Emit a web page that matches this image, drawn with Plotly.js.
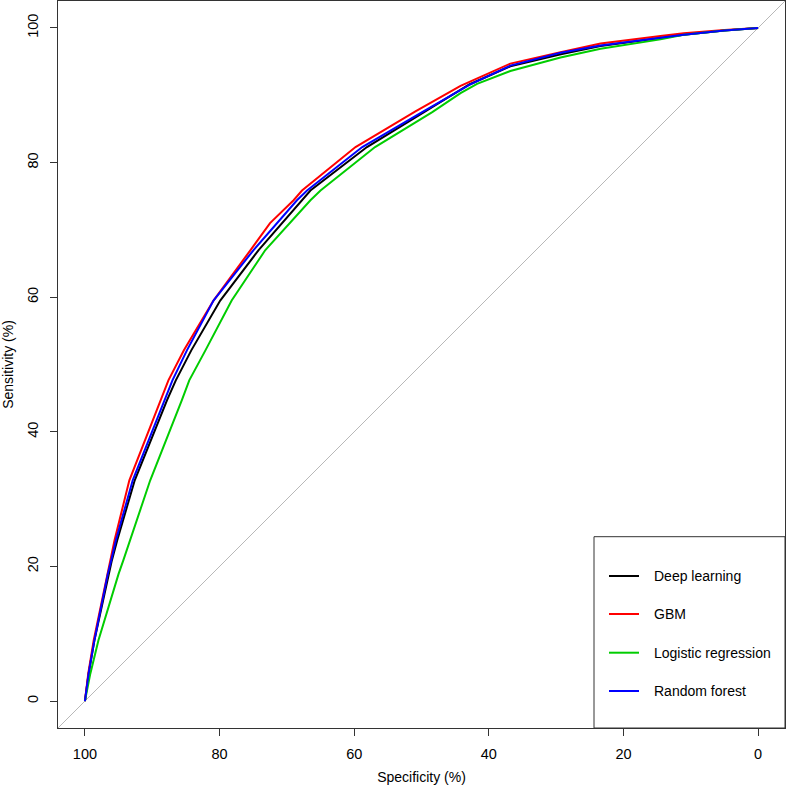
<!DOCTYPE html>
<html>
<head>
<meta charset="utf-8">
<script src="https://cdn.plot.ly/plotly-3.0.1.min.js"></script>
<style>html,body{margin:0;padding:0;background:#fff;}#chart{width:786px;height:788px;}</style>
</head>
<body>
<div id="chart"></div>
<script>
// ROC curves: specificity (%) vs sensitivity (%)
const seriesNames = ["Deep learning", "GBM", "Logistic regression", "Random forest"];
const seriesColors = ["#000000", "#FF0000", "#00CD00", "#0000FF"];

const dlSpec = [100, 99.45, 98.6, 97.5, 96.5, 96.0, 95.2, 92.6, 87.8, 86.5, 84.2, 79.9, 74.2, 67.8, 66.5, 58.1, 49.9, 42.9, 36.8, 29.3, 23.4, 14.5, 11.05, 5, 0];
const dlSens = [0, 4.07, 9.0, 14.0, 18.9, 20.9, 23.9, 32.8, 44.7, 47.65, 52.1, 59.5, 67.0, 74.4, 75.85, 82.3, 87.3, 91.6, 94.3, 96.1, 97.3, 98.5, 99.0, 99.6, 100];

const gbmSpec = [100, 99.5, 98.7, 97.65, 96.7, 96.2, 95.6, 93.4, 88.8, 87.6, 85.3, 80.9, 75.4, 72.5, 69.0, 67.75, 59.8, 50.9, 44.2, 36.8, 29.35, 23.4, 14.5, 11.05, 5, 0];
const gbmSens = [0, 4.1, 9.0, 14.0, 18.9, 20.9, 23.9, 32.8, 44.7, 47.65, 52.1, 59.5, 67.0, 71.0, 74.4, 75.85, 82.3, 87.6, 91.4, 94.7, 96.4, 97.7, 98.8, 99.2, 99.7, 100];

const lrSpec = [100, 99.2, 98.0, 96.5, 95.0, 94.3, 93.3, 90.3, 85.6, 84.5, 82.1, 78.2, 73.2, 66.5, 65.0, 56.9, 48.4, 44.2, 41.75, 36.8, 29.35, 23.4, 14.5, 11.05, 5, 0];
const lrSens = [0, 4.07, 9.0, 14.0, 18.9, 20.9, 23.9, 32.8, 44.7, 47.65, 52.1, 59.5, 67.0, 74.4, 75.85, 82.3, 87.5, 90.3, 91.7, 93.6, 95.6, 96.9, 98.3, 99.0, 99.6, 100];

const rfSpec = [100, 99.46, 98.6, 97.6, 96.6, 96.1, 95.4, 92.9, 88.2, 87.0, 84.85, 80.9, 74.95, 68.5, 67.0, 58.8, 49.9, 42.75, 36.8, 29.35, 23.4, 14.5, 11.05, 5, 0];
const rfSens = [0, 4.07, 9.0, 14.0, 18.9, 20.9, 23.9, 32.8, 44.7, 47.65, 52.1, 59.5, 67.0, 74.4, 75.85, 82.3, 87.5, 91.6, 94.4, 96.3, 97.4, 98.6, 99.0, 99.6, 100];

const tickVals = [0, 20, 40, 60, 80, 100];
const tickText = ["0", "20", "40", "60", "80", "100"];

const specs = [dlSpec, gbmSpec, lrSpec, rfSpec];
const senss = [dlSens, gbmSens, lrSens, rfSens];

const FONT = "Liberation Sans, Arial, sans-serif";

const traces = seriesNames.map((n, i) => ({
  type: "scatter", mode: "lines", name: n,
  x: specs[i], y: senss[i],
  line: {color: seriesColors[i], width: 2},
  showlegend: false, hoverinfo: "skip"
}));

// legend drawn in the R style: box at bottom-right of plot area
const W = 727, H = 727, L = 58, T = 1;
const px = v => (v - L) / W;
const py = v => (T + H - v) / H;
const legRows = [576, 614, 652.7, 691];
const shapes = [
  {type: "line", xref: "x", yref: "y", x0: 104, y0: -4, x1: -4, y1: 104,
   line: {color: "#B8B8B8", width: 1}, layer: "below"},
  {type: "rect", xref: "paper", yref: "paper", x0: px(594), x1: 1, y0: 0, y1: py(536.7),
   line: {color: "#333333", width: 1}, fillcolor: "#ffffff", layer: "above"}
];
const annotations = [];
seriesNames.forEach((n, i) => {
  shapes.push({type: "line", xref: "paper", yref: "paper",
    x0: px(609), x1: px(639), y0: py(legRows[i]), y1: py(legRows[i]),
    line: {color: seriesColors[i], width: 2}, layer: "above"});
  annotations.push({xref: "paper", yref: "paper", x: px(652), y: py(legRows[i]),
    xanchor: "left", yanchor: "middle", showarrow: false, text: n,
    font: {family: FONT, size: 14, color: "#000"}});
});

const layout = {
  width: 786, height: 788,
  margin: {l: L, r: 1, t: T, b: 60, pad: 0},
  paper_bgcolor: "#ffffff", plot_bgcolor: "#ffffff",
  font: {family: FONT, size: 14, color: "#000"},
  showlegend: false,
  xaxis: {
    range: [104, -4], tickvals: tickVals, ticktext: tickText,
    ticks: "outside", ticklen: 7, tickwidth: 1, tickcolor: "#333",
    showline: true, mirror: true, linecolor: "#333", linewidth: 1,
    showgrid: false, zeroline: false, automargin: false,
    tickfont: {family: FONT, size: 14.5, color: "#000"},
    ticklabelstandoff: 6,
    title: {text: "Specificity (%)", font: {family: FONT, size: 14, color: "#000"}, standoff: 10}
  },
  yaxis: {
    range: [-4, 104], tickvals: tickVals, ticktext: tickText,
    ticks: "outside", ticklen: 7, tickwidth: 1, tickcolor: "#333",
    showline: true, mirror: true, linecolor: "#333", linewidth: 1,
    showgrid: false, zeroline: false, automargin: false,
    tickangle: -90,
    tickfont: {family: FONT, size: 14.5, color: "#000"},
    ticklabelstandoff: 6,
    title: {text: "Sensitivity (%)", font: {family: FONT, size: 14, color: "#000"}, standoff: 10}
  },
  shapes: shapes,
  annotations: annotations
};

Plotly.newPlot("chart", traces, layout, {staticPlot: true, displayModeBar: false});
</script>
</body>
</html>
